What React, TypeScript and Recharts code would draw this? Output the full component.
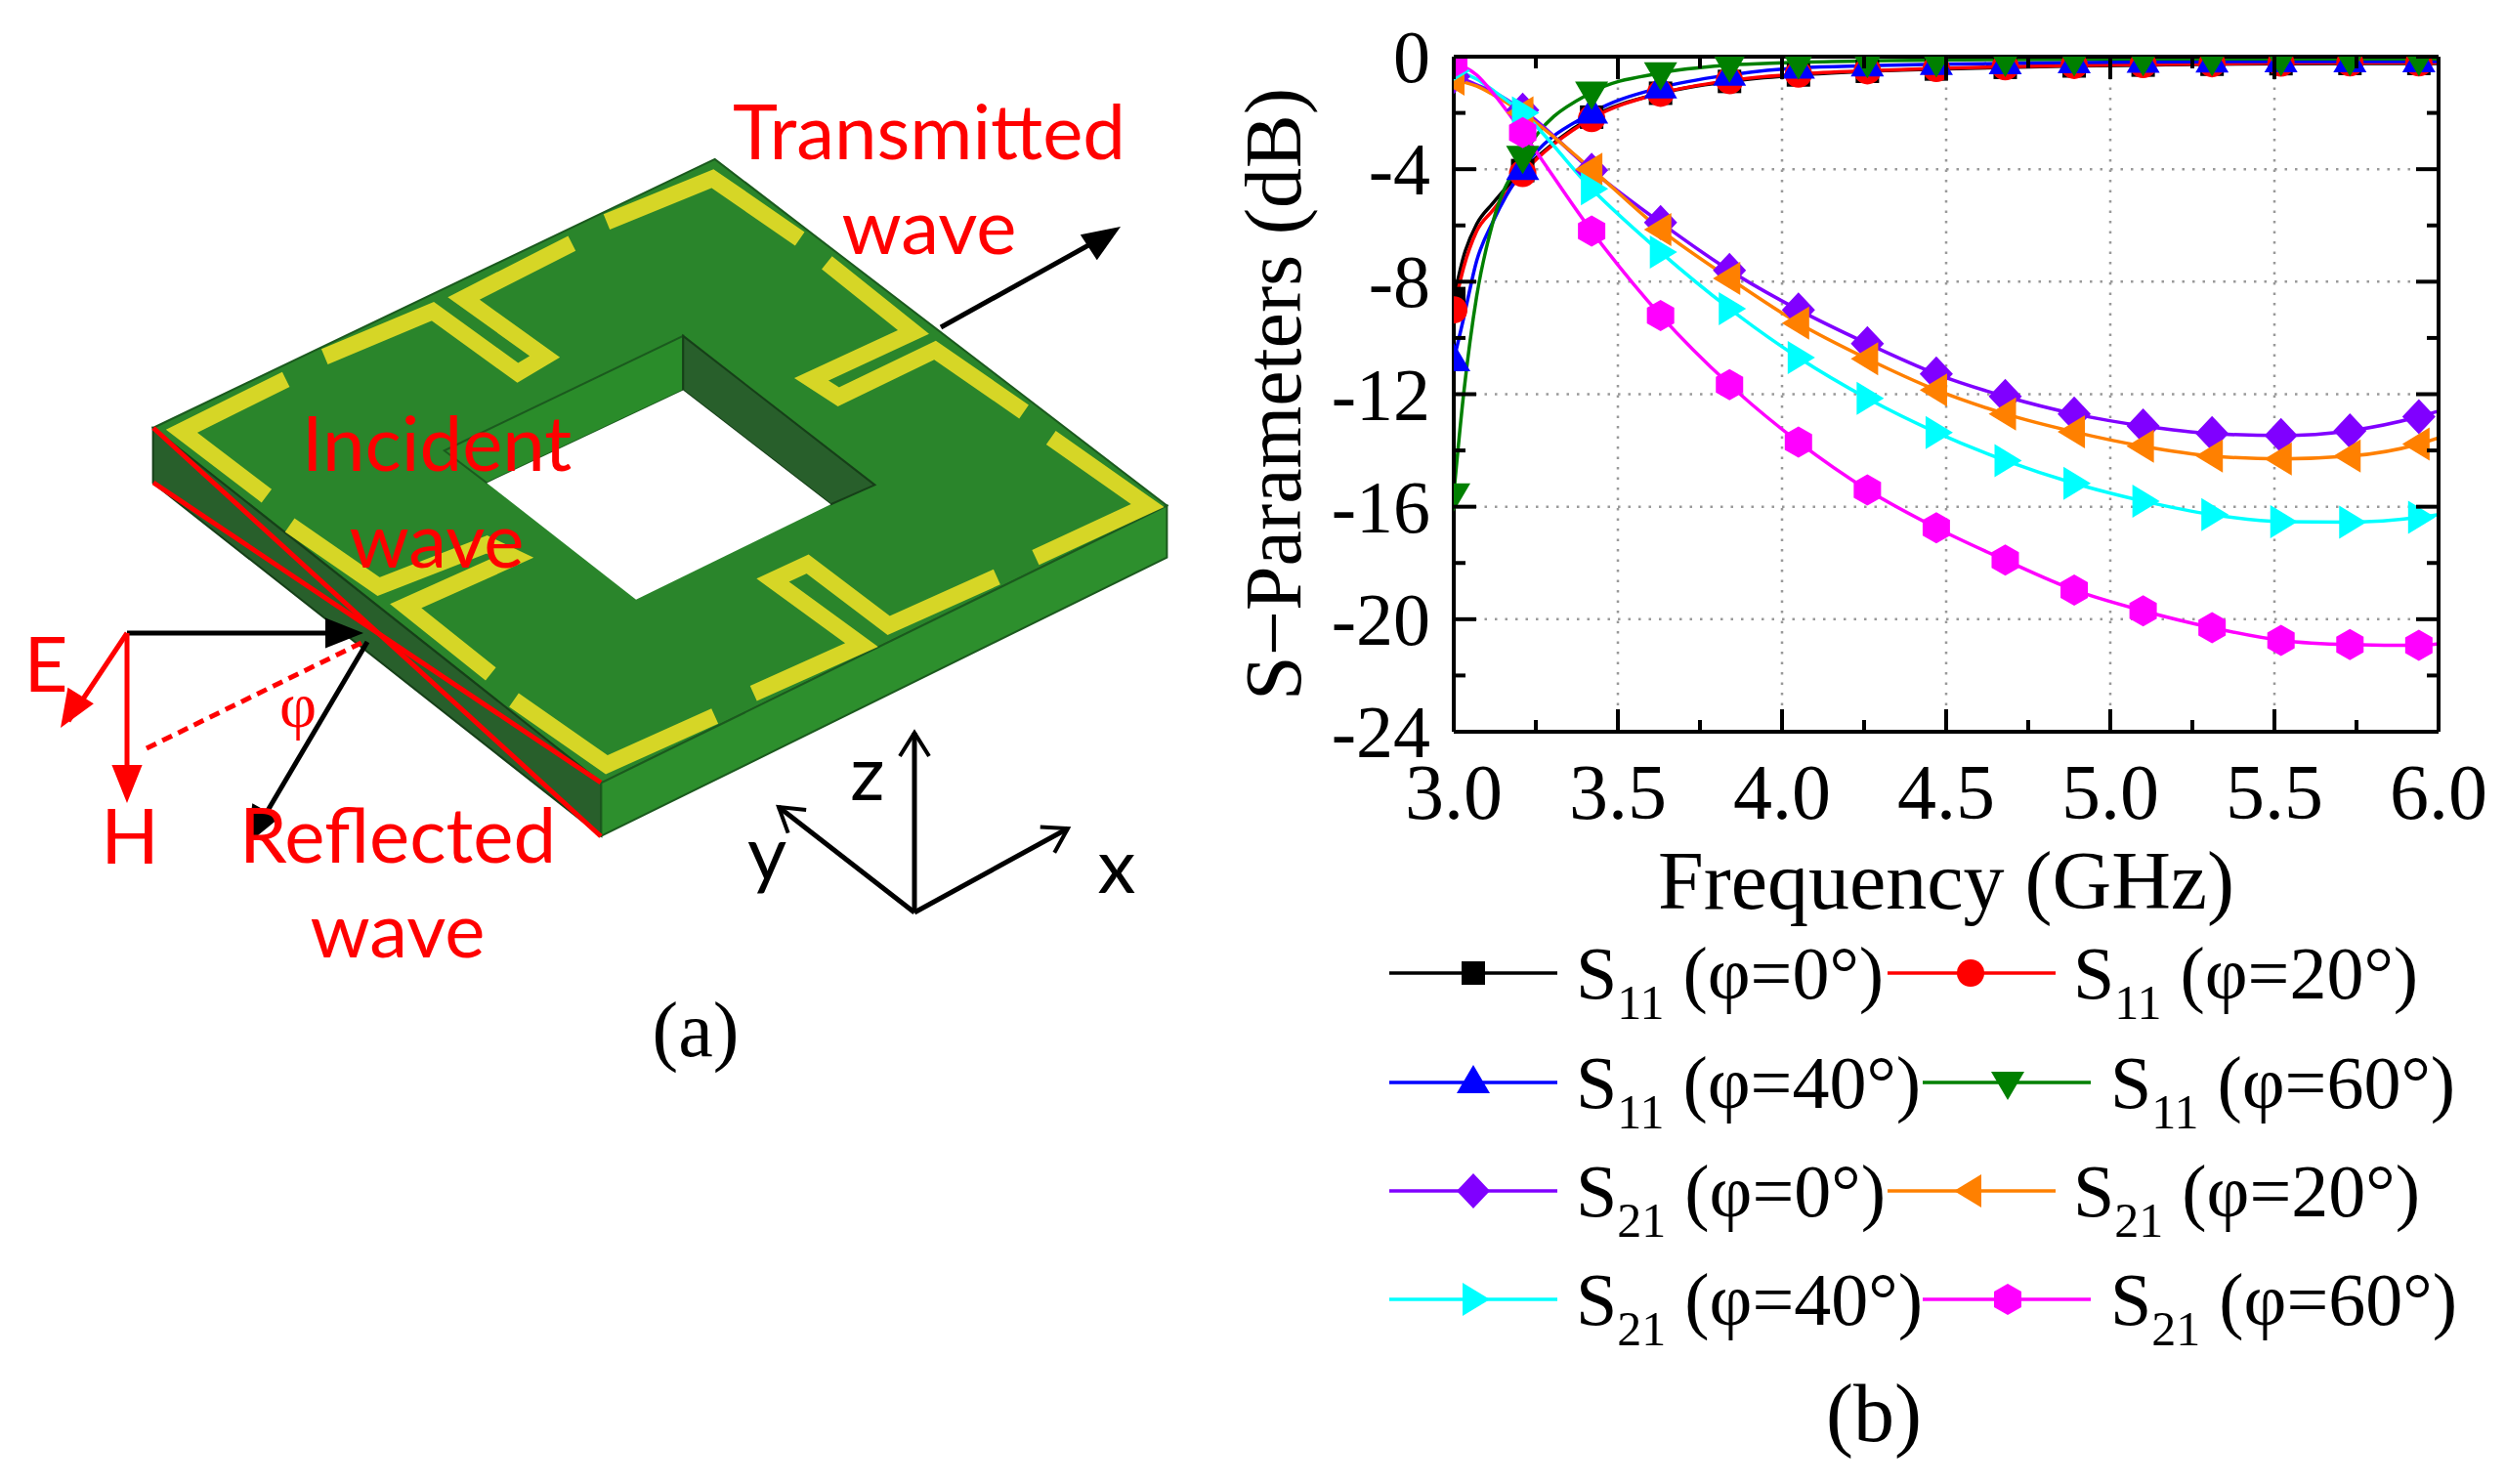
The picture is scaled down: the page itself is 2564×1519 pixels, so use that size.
import React from 'react';
import { LineChart, Line, XAxis, YAxis, CartesianGrid } from 'recharts';

const SERIF = '"Liberation Serif", serif';
const SANS = 'Lato, sans-serif';

const freq = [3.0, 3.03, 3.07, 3.12, 3.21, 3.42, 3.63, 3.84, 4.05, 4.26, 4.47, 4.68, 4.89, 5.1, 5.31, 5.52, 5.73, 5.94, 6.0];
const markerFreqs = [3.0, 3.21, 3.42, 3.63, 3.84, 4.05, 4.26, 4.47, 4.68, 4.89, 5.1, 5.31, 5.52, 5.73, 5.94];

const s11At0 = [-8.6, -7.1, -5.95, -5.2, -4.05, -2.15, -1.3, -0.88, -0.65, -0.52, -0.44, -0.38, -0.33, -0.3, -0.27, -0.25, -0.24, -0.24, -0.24];
const s11At20 = [-9.0, -7.5, -6.2, -5.45, -4.15, -2.2, -1.3, -0.85, -0.62, -0.5, -0.42, -0.36, -0.31, -0.28, -0.25, -0.23, -0.22, -0.22, -0.22];
const s11At40 = [-10.8, -9.3, -7.25, -5.85, -4.0, -2.0, -1.1, -0.65, -0.4, -0.32, -0.27, -0.24, -0.21, -0.19, -0.18, -0.17, -0.17, -0.17, -0.17];
const s11At60 = [-15.55, -12.0, -8.5, -5.85, -3.55, -1.27, -0.58, -0.3, -0.2, -0.15, -0.12, -0.1, -0.09, -0.08, -0.08, -0.08, -0.08, -0.08, -0.08];
const s21At0 = [-0.7, -0.8, -1.0, -1.25, -1.9, -4.04, -5.9, -7.6, -9.0, -10.2, -11.28, -12.08, -12.7, -13.13, -13.4, -13.47, -13.3, -12.8, -12.6];
const s21At20 = [-0.8, -0.9, -1.05, -1.35, -2.0, -4.0, -6.15, -7.88, -9.47, -10.74, -11.85, -12.7, -13.34, -13.85, -14.2, -14.3, -14.2, -13.77, -13.55];
const s21At40 = [-0.5, -0.6, -0.8, -1.2, -2.0, -4.7, -6.95, -8.96, -10.7, -12.15, -13.36, -14.36, -15.17, -15.8, -16.28, -16.53, -16.55, -16.38, -16.28];
const s21At60 = [-0.2, -0.35, -0.65, -1.3, -2.7, -6.2, -9.2, -11.66, -13.7, -15.4, -16.75, -17.9, -18.96, -19.7, -20.3, -20.75, -20.9, -20.93, -20.87];

const xTicks = [3, 3.25, 3.5, 3.75, 4, 4.25, 4.5, 4.75, 5, 5.25, 5.5, 5.75, 6];
const yTicks = [0, -2, -4, -6, -8, -10, -12, -14, -16, -18, -20, -22, -24];
const xGrid = [3.5, 4, 4.5, 5, 5.5];
const yGrid = [-4, -8, -12, -16, -20];

const series = [
  { key: 's11a', sub: '11', angle: '0', color: '#000000', shape: 'square', values: s11At0 },
  { key: 's11b', sub: '11', angle: '20', color: '#ff0000', shape: 'circle', values: s11At20 },
  { key: 's11c', sub: '11', angle: '40', color: '#0000ff', shape: 'up', values: s11At40 },
  { key: 's11d', sub: '11', angle: '60', color: '#008000', shape: 'down', values: s11At60 },
  { key: 's21a', sub: '21', angle: '0', color: '#8000ff', shape: 'diamond', values: s21At0 },
  { key: 's21b', sub: '21', angle: '20', color: '#ff8000', shape: 'left', values: s21At20 },
  { key: 's21c', sub: '21', angle: '40', color: '#00ffff', shape: 'right', values: s21At40 },
  { key: 's21d', sub: '21', angle: '60', color: '#ff00ff', shape: 'hexagon', values: s21At60 },
];

const rows = freq.map((f, i) => {
  const row: Record<string, number> = { freq: f };
  series.forEach((s) => {
    row[s.key] = s.values[i];
  });
  return row;
});

function Marker({ shape, x, y, color }: { shape: string; x: number; y: number; color: string }) {
  const poly = (pts: number[][]) => (
    <polygon points={pts.map((p) => `${x + p[0]},${y + p[1]}`).join(' ')} fill={color} />
  );
  switch (shape) {
    case 'square':
      return <rect x={x - 12} y={y - 12} width={24} height={24} fill={color} />;
    case 'circle':
      return <circle cx={x} cy={y} r={14} fill={color} />;
    case 'up':
      return poly([[0, -18], [17, 11], [-17, 11]]);
    case 'down':
      return poly([[0, 18], [17, -11], [-17, -11]]);
    case 'diamond':
      return poly([[0, -18], [17, 0], [0, 18], [-17, 0]]);
    case 'left':
      return poly([[-17, 0], [11, -17], [11, 17]]);
    case 'right':
      return poly([[17, 0], [-11, -17], [-11, 17]]);
    default:
      return poly([[0, -16], [14, -8], [14, 8], [0, 16], [-14, 8], [-14, -8]]);
  }
}

const makeDot = (shape: string, color: string) => (props: any) => {
  const { cx, cy, index, payload } = props;
  if (!markerFreqs.includes(payload.freq)) return <g key={index} />;
  return (
    <g key={index}>
      <Marker shape={shape} x={cx} y={cy} color={color} />
    </g>
  );
};

const tickStroke = { stroke: '#000', strokeWidth: 4 };

const BottomTick = ({ x, y, payload }: any) => {
  const major = Number.isInteger(payload.value * 2);
  return (
    <g>
      <line x1={x} y1={y} x2={x} y2={y - (major ? 23 : 12)} {...tickStroke} />
      {major && (
        <text x={x} y={y + 89} textAnchor="middle" fontSize={80} fontFamily={SERIF} fill="#000">
          {payload.value.toFixed(1)}
        </text>
      )}
    </g>
  );
};

const TopTick = ({ x, y, payload }: any) => {
  const major = Number.isInteger(payload.value * 2);
  return <line x1={x} y1={y} x2={x} y2={y + (major ? 23 : 12)} {...tickStroke} />;
};

const LeftTick = ({ x, y, payload }: any) => {
  const major = payload.value % 4 === 0;
  return (
    <g>
      <line x1={x} y1={y} x2={x + (major ? 23 : 12)} y2={y} {...tickStroke} />
      {major && (
        <text x={x - 24} y={y + 26} textAnchor="end" fontSize={76} fontFamily={SERIF} fill="#000">
          {String(payload.value)}
        </text>
      )}
    </g>
  );
};

const RightTick = ({ x, y, payload }: any) => {
  const major = payload.value % 4 === 0;
  return <line x1={x} y1={y} x2={x - (major ? 23 : 12)} y2={y} {...tickStroke} />;
};

const legendSlots = [
  { lineX: 1422, textX: 1613, markX: 1508, rowY: 996 },
  { lineX: 1932, textX: 2122, markX: 2017, rowY: 996 },
  { lineX: 1422, textX: 1613, markX: 1508, rowY: 1108 },
  { lineX: 1968, textX: 2160, markX: 2055, rowY: 1108 },
  { lineX: 1422, textX: 1613, markX: 1508, rowY: 1219 },
  { lineX: 1932, textX: 2122, markX: 2017, rowY: 1219 },
  { lineX: 1422, textX: 1613, markX: 1508, rowY: 1330 },
  { lineX: 1968, textX: 2160, markX: 2055, rowY: 1330 },
];

function LegendEntries() {
  return (
    <g>
      {series.map((s, i) => {
        const slot = legendSlots[i];
        return (
          <g key={s.key}>
            <line x1={slot.lineX} x2={slot.lineX + 172} y1={slot.rowY} y2={slot.rowY} stroke={s.color} strokeWidth={3.5} />
            <Marker shape={s.shape} x={slot.markX} y={slot.rowY} color={s.color} />
            <text x={slot.textX} y={slot.rowY + 26} fontFamily={SERIF} fontSize={76} fill="#000">
              S
              <tspan fontSize={50} dy={21}>{s.sub}</tspan>
              <tspan dy={-21}>{` (φ=${s.angle}°)`}</tspan>
            </text>
          </g>
        );
      })}
    </g>
  );
}

const yellowTraces = [
  '785,222 922,155 1035,248',
  '1070,285 1182,392 1050,465 1085,492 1210,420 1325,515',
  '1360,555 1485,660 1340,740',
  '1290,770 1150,845 1045,750 1000,775 1115,875 975,950',
  '925,985 785,1060 665,960',
  '635,920 525,815 665,740 630,720 490,785 375,690',
  '345,645 235,545 370,465',
  '420,430 560,360 670,455 705,430 600,340 740,255',
];

function ArrowHead({ x, y, angle, color, size = 26 }: { x: number; y: number; angle: number; color: string; size?: number }) {
  return (
    <polygon
      points={`0,0 ${-size * 1.5},${-size * 0.6} ${-size * 1.5},${size * 0.6}`}
      fill={color}
      transform={`translate(${x} ${y}) rotate(${angle})`}
    />
  );
}

function OpenHead({ x, y, angle }: { x: number; y: number; angle: number }) {
  return (
    <polyline
      points="-24,-15 0,0 -24,15"
      fill="none"
      stroke="#000"
      strokeWidth={4}
      transform={`translate(${x} ${y}) rotate(${angle})`}
    />
  );
}

function BoardIllustration() {
  return (
    <g>
      <g transform="translate(0 80) scale(0.791 0.663)">
        <polygon points="198,540 925,125 1510,660 778,1088" fill="#2a852b" stroke="#1b5a1e" strokeWidth={2} vectorEffect="non-scaling-stroke" />
        <polygon points="198,540 778,1088 778,1170 198,625" fill="#285f2b" stroke="#163f18" strokeWidth={2} vectorEffect="non-scaling-stroke" />
        <polygon points="778,1088 1510,660 1510,740 778,1170" fill="#2d8f2d" stroke="#1b5a1e" strokeWidth={2} vectorEffect="non-scaling-stroke" />
        <polygon points="575,575 884,398 884,482 630,625" fill="#2a8c2a" stroke="#1b5a1e" strokeWidth={2} vectorEffect="non-scaling-stroke" />
        <polygon points="884,398 1132,628 1075,658 884,482" fill="#285f2b" stroke="#163f18" strokeWidth={2} vectorEffect="non-scaling-stroke" />
        <polygon points="884,482 1075,658 823,805 630,625" fill="#ffffff" />
        {yellowTraces.map((pts) => (
          <polyline key={pts} points={pts} fill="none" stroke="#d6d626" strokeWidth={17} strokeLinejoin="miter" vectorEffect="non-scaling-stroke" />
        ))}
      </g>
      {/* red twisted edge lines */}
      <line x1={157} y1={438} x2={615} y2={856} stroke="#f00" strokeWidth={5} />
      <line x1={157} y1={494} x2={615} y2={801} stroke="#f00" strokeWidth={5} />
      {/* E, H and the incident direction */}
      <line x1={130} y1={648} x2={350} y2={648} stroke="#000" strokeWidth={5} />
      <ArrowHead x={372} y={648} angle={0} color="#000" />
      <line x1={130} y1={648} x2={70} y2={738} stroke="#f00" strokeWidth={5} />
      <ArrowHead x={62} y={745} angle={122} color="#f00" />
      <line x1={130} y1={648} x2={130} y2={800} stroke="#f00" strokeWidth={5} />
      <ArrowHead x={130} y={822} angle={90} color="#f00" />
      <line x1={150} y1={766} x2={372} y2={657} stroke="#f00" strokeWidth={5} strokeDasharray="11 7" />
      <line x1={376} y1={657} x2={262} y2={850} stroke="#000" strokeWidth={5} />
      <ArrowHead x={253} y={864} angle={119} color="#000" />
      <line x1={963} y1={335} x2={1125} y2={245} stroke="#000" strokeWidth={5} />
      <ArrowHead x={1147} y={232} angle={-33} color="#000" />
      {/* coordinate axes */}
      <line x1={936} y1={934} x2={936} y2={750} stroke="#000" strokeWidth={5} />
      <OpenHead x={936} y={750} angle={-90} />
      <line x1={936} y1={934} x2={797} y2={826} stroke="#000" strokeWidth={5} />
      <OpenHead x={797} y={826} angle={-142} />
      <line x1={936} y1={934} x2={1093} y2={848} stroke="#000" strokeWidth={5} />
      <OpenHead x={1093} y={848} angle={-29} />
      <g fontFamily={SANS} fontSize={78} fill="#f00" textAnchor="middle">
        <text x={951} y={163}>Transmitted</text>
        <text x={951} y={260}>wave</text>
        <text x={447} y={482}>Incident</text>
        <text x={447} y={581}>wave</text>
        <text x={407} y={883}>Reflected</text>
        <text x={407} y={980}>wave</text>
        <text x={47} y={708}>E</text>
        <text x={133} y={884}>H</text>
      </g>
      <text x={305} y={744} fontFamily={SERIF} fontSize={66} fill="#f00" textAnchor="middle">φ</text>
      <g fontFamily={SANS} fontSize={78} fill="#000" textAnchor="middle">
        <text x={888} y={819}>z</text>
        <text x={785} y={901}>y</text>
        <text x={1143} y={914}>x</text>
      </g>
      <text x={712} y={1081} fontFamily={SERIF} fontSize={80} textAnchor="middle" fill="#000">(a)</text>
      <text x={1918} y={1475} fontFamily={SERIF} fontSize={84} textAnchor="middle" fill="#000">(b)</text>
    </g>
  );
}

export default function App() {
  return (
    <div style={{ position: 'absolute', left: 0, top: 0, width: 2564, height: 1519, background: '#fff', overflow: 'hidden' }}>
      <svg width={2564} height={1519} style={{ position: 'absolute', left: 0, top: 0 }}>
        <BoardIllustration />
        <LegendEntries />
      </svg>
      <div style={{ position: 'absolute', left: 1240, top: 0 }}>
        <LineChart width={1324} height={960} data={rows} margin={{ top: 57, right: 67, bottom: 210, left: 247 }}>
          <CartesianGrid
            horizontalValues={yGrid}
            verticalValues={xGrid}
            stroke="#999"
            strokeWidth={2.5}
            strokeDasharray="2.5 8"
          />
          <XAxis
            dataKey="freq"
            type="number"
            domain={[3, 6]}
            ticks={xTicks}
            interval={0}
            allowDataOverflow
            height={1}
            tickSize={0}
            tickMargin={0}
            tick={BottomTick}
            tickLine={false}
            axisLine={{ stroke: '#000', strokeWidth: 4 }}
            label={{ value: 'Frequency (GHz)', position: 'bottom', offset: 120, fontSize: 84, fontFamily: SERIF, fill: '#000' }}
          />
          <XAxis
            xAxisId="top"
            orientation="top"
            dataKey="freq"
            type="number"
            domain={[3, 6]}
            ticks={xTicks}
            interval={0}
            allowDataOverflow
            height={1}
            tickSize={0}
            tickMargin={0}
            tick={TopTick}
            tickLine={false}
            axisLine={{ stroke: '#000', strokeWidth: 4 }}
          />
          <YAxis
            type="number"
            domain={[-24, 0]}
            ticks={yTicks}
            interval={0}
            allowDataOverflow
            width={1}
            tickSize={0}
            tickMargin={0}
            tick={LeftTick}
            tickLine={false}
            axisLine={{ stroke: '#000', strokeWidth: 4 }}
            label={{ value: 'S−Parameters (dB)', angle: -90, position: 'left', offset: 185, textAnchor: 'middle', fontSize: 82, fontFamily: SERIF, fill: '#000' }}
          />
          <YAxis
            yAxisId="right"
            orientation="right"
            type="number"
            domain={[-24, 0]}
            ticks={yTicks}
            interval={0}
            allowDataOverflow
            width={1}
            tickSize={0}
            tickMargin={0}
            tick={RightTick}
            tickLine={false}
            axisLine={{ stroke: '#000', strokeWidth: 4 }}
          />
          {series.map((s) => (
            <Line
              key={s.key}
              dataKey={s.key}
              type="monotone"
              stroke={s.color}
              strokeWidth={3.5}
              dot={makeDot(s.shape, s.color)}
              activeDot={false}
              isAnimationActive={false}
              legendType="none"
            />
          ))}
        </LineChart>
      </div>
    </div>
  );
}
